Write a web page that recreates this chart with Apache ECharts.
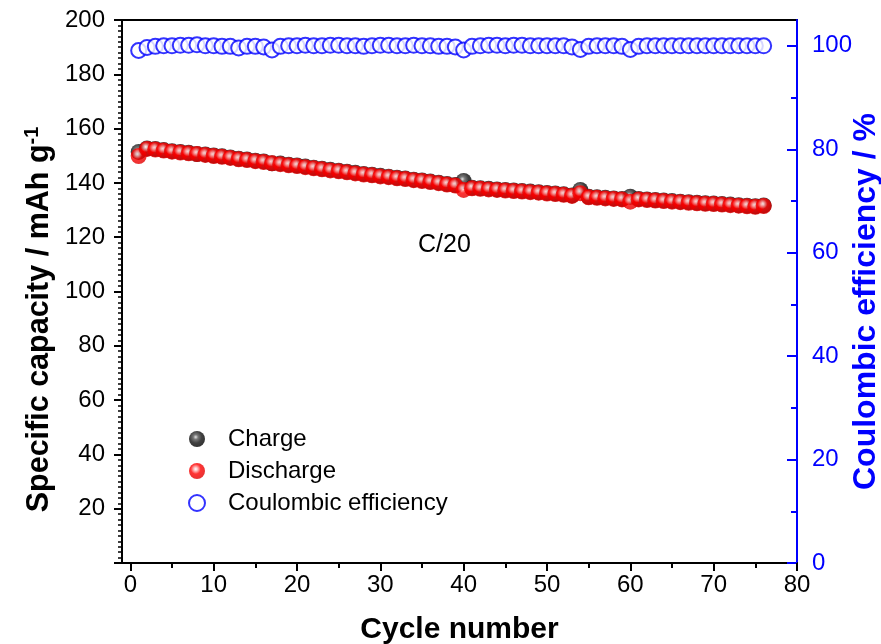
<!DOCTYPE html>
<html>
<head>
<meta charset="utf-8">
<script src="https://cdn.jsdelivr.net/npm/echarts@6/dist/echarts.min.js"></script>
<style>
html,body{margin:0;padding:0;background:#fff;}
#c{width:881px;height:644px;}
</style>
</head>
<body>
<div id="c"></div>
<script>
// ---- data ----
const cycles = [];
for (let i = 1; i <= 76; i++) cycles.push(i);

const discharge = [
  149.9, 152.5, 152.3, 151.9, 151.5, 151.2, 150.9, 150.6, 150.3, 149.9,
  149.6, 149.2, 148.7, 148.4, 148.0, 147.7, 147.2, 146.9, 146.5, 146.2,
  145.8, 145.4, 145.0, 144.6, 144.3, 143.9, 143.5, 143.1, 142.8, 142.4,
  142.1, 141.7, 141.4, 141.0, 140.7, 140.3, 139.9, 139.4, 139.0, 137.4,
  138.0, 137.8, 137.6, 137.4, 137.2, 137.0, 136.8, 136.6, 136.4, 136.1,
  135.9, 135.6, 135.2, 136.2, 134.7, 134.5, 134.3, 134.1, 133.9, 133.1,
  133.9, 133.7, 133.5, 133.3, 133.1, 132.9, 132.7, 132.5, 132.3, 132.2,
  132.0, 131.8, 131.6, 131.4, 131.2, 131.5
];

const charge = [
  151.4, 152.7, 152.5, 152.1, 151.7, 151.4, 151.1, 150.6, 150.5, 150.1,
  149.8, 149.4, 148.9, 148.6, 148.2, 147.9, 147.2, 147.1, 146.7, 146.4,
  146.0, 145.6, 145.2, 144.8, 144.5, 144.1, 143.7, 143.3, 143.0, 142.6,
  142.3, 141.9, 141.6, 141.2, 140.9, 140.5, 140.1, 139.6, 139.2, 140.7,
  138.2, 138.0, 137.8, 137.6, 137.4, 137.2, 137.0, 136.8, 136.6, 136.3,
  136.1, 135.8, 135.4, 137.4, 134.9, 134.7, 134.5, 134.3, 134.1, 134.9,
  134.1, 133.9, 133.7, 133.5, 133.3, 133.1, 132.9, 132.7, 132.5, 132.4,
  132.2, 132.0, 131.8, 131.6, 131.4, 131.7
];

const efficiency = [
  99.1, 99.7, 99.9, 100.0, 100.0, 100.1, 100.1, 100.2, 100.0, 100.0,
  99.9, 99.9, 99.6, 99.9, 99.9, 99.8, 99.2, 99.9, 100.0, 100.0,
  100.1, 100.0, 100.0, 100.1, 100.1, 100.0, 100.0, 99.9, 100.0, 100.1,
  100.1, 100.0, 100.0, 100.1, 100.0, 100.0, 99.9, 99.9, 99.8, 99.2,
  99.9, 100.0, 100.1, 100.1, 100.0, 100.1, 100.1, 100.0, 100.0, 100.0,
  100.0, 100.0, 99.8, 99.3, 99.9, 100.0, 100.0, 100.0, 99.9, 99.3,
  99.9, 100.0, 100.0, 100.0, 100.0, 100.0, 100.0, 100.0, 100.0, 100.0,
  100.0, 100.0, 100.0, 100.0, 100.0, 100.0
];

const xMajorTicks = [0, 10, 20, 30, 40, 50, 60, 70, 80];
const xMinorTicks = [5, 15, 25, 35, 45, 55, 65, 75];
const ceMajorTicks = [0, 20, 40, 60, 80, 100];
const ceMinorTicks = [10, 30, 50, 70, 90];
const rateLabel = 'C/20';

// ---- chart ----
const FONT = '"Liberation Sans", Arial, Helvetica, sans-serif';
const pair = (xs, ys) => xs.map((x, i) => [x, ys[i]]);

const redBall = {
  type: 'radial', x: 0.42, y: 0.38, r: 0.62,
  colorStops: [
    { offset: 0, color: '#ffffff' },
    { offset: 0.18, color: '#ffb3b3' },
    { offset: 0.5, color: '#ff0000' },
    { offset: 1, color: '#e00000' }
  ]
};
const blackBall = {
  type: 'radial', x: 0.42, y: 0.38, r: 0.62,
  colorStops: [
    { offset: 0, color: '#dddddd' },
    { offset: 0.25, color: '#555555' },
    { offset: 0.6, color: '#111111' },
    { offset: 1, color: '#000000' }
  ]
};

const chart = echarts.init(document.getElementById('c'), null, { renderer: 'canvas' });

chart.setOption({
  animation: false,
  backgroundColor: '#fff',
  textStyle: { fontFamily: FONT },
  grid: {
    left: 122, right: 84, top: 20, bottom: 81,
    outerBoundsMode: 'none', containLabel: false,
    show: true, borderColor: '#000', borderWidth: 2, backgroundColor: 'transparent'
  },
  legend: {
    orient: 'vertical',
    left: 183, top: 422,
    itemWidth: 16, itemHeight: 16, itemGap: 8,
    textStyle: { fontSize: 24, color: '#000', fontFamily: FONT, padding: [0, 0, 0, 18] },
    data: ['Charge', 'Discharge', 'Coulombic efficiency']
  },
  graphic: [{
    type: 'text', left: 418, top: 233,
    style: { text: rateLabel, font: '25px ' + FONT, fill: '#000' }
  }],
  xAxis: [{
    type: 'value', min: -1, max: 80, position: 'bottom',
    name: 'Cycle number', nameLocation: 'middle', nameGap: 52, nameMoveOverlap: false,
    nameTextStyle: { fontSize: 30, fontWeight: 'bold', color: '#000', fontFamily: FONT },
    axisLine: { onZero: false, lineStyle: { color: '#000', width: 2 } },
    axisTick: { customValues: xMajorTicks, length: 8, lineStyle: { color: '#000', width: 2 } },
    axisLabel: { customValues: xMajorTicks, fontSize: 24, color: '#000', margin: 10, fontFamily: FONT },
    splitLine: { show: false }
  }, {
    type: 'value', min: -1, max: 80, position: 'bottom',
    axisLine: { show: false, onZero: false },
    axisTick: { customValues: xMinorTicks, length: 5, lineStyle: { color: '#000', width: 2 } },
    axisLabel: { show: false },
    splitLine: { show: false }
  }],
  yAxis: [{
    type: 'value', min: 0, max: 200, interval: 20, position: 'left',
    name: 'Specific capacity / mAh g{sup|-1}', nameLocation: 'middle', nameGap: 64, nameMoveOverlap: false,
    nameTextStyle: {
      fontSize: 30.5, fontWeight: 'bold', color: '#000', fontFamily: FONT,
      padding: [0, 56, 0, 0],
      rich: { sup: { fontSize: 20, fontWeight: 'bold', color: '#000', fontFamily: FONT, padding: [0, 0, 16, 0] } }
    },
    axisLine: { onZero: false, lineStyle: { color: '#000', width: 2 } },
    axisTick: { length: 8, lineStyle: { color: '#000', width: 2 } },
    minorTick: { show: true, splitNumber: 10, length: 4, lineStyle: { color: '#000', width: 1.5 } },
    axisLabel: { fontSize: 24, color: '#000', margin: 17, showMinLabel: false, fontFamily: FONT },
    splitLine: { show: false }, minorSplitLine: { show: false }
  }, {
    type: 'value', min: 0, max: 105, position: 'right',
    name: 'Coulombic efficiency / %', nameLocation: 'middle', nameGap: 53, nameMoveOverlap: false,
    nameTextStyle: { fontSize: 32, fontWeight: 'bold', color: '#0000ff', fontFamily: FONT, padding: [0, 20, 0, 0] },
    axisLine: { onZero: false, lineStyle: { color: '#0000ff', width: 2 } },
    axisTick: { inside: true, customValues: ceMajorTicks, length: 10, lineStyle: { color: '#0000ff', width: 2 } },
    axisLabel: { customValues: ceMajorTicks, fontSize: 24, color: '#0000ff', margin: 15, fontFamily: FONT },
    splitLine: { show: false }
  }, {
    type: 'value', min: 0, max: 105, position: 'right',
    axisLine: { show: false, onZero: false },
    axisTick: { inside: true, customValues: ceMinorTicks, length: 6, lineStyle: { color: '#0000ff', width: 2 } },
    axisLabel: { show: false },
    splitLine: { show: false }
  }],
  series: [{
    name: 'Charge', type: 'scatter', xAxisIndex: 0, yAxisIndex: 0,
    symbol: 'circle', symbolSize: 16,
    itemStyle: { color: blackBall },
    data: pair(cycles, charge)
  }, {
    name: 'Discharge', type: 'scatter', xAxisIndex: 0, yAxisIndex: 0,
    symbol: 'circle', symbolSize: 16,
    itemStyle: { color: redBall },
    data: pair(cycles, discharge)
  }, {
    name: 'Coulombic efficiency', type: 'scatter', xAxisIndex: 0, yAxisIndex: 1,
    symbol: 'circle', symbolSize: 15,
    itemStyle: { color: '#ffffff', borderColor: '#0000ff', borderWidth: 2 },
    data: pair(cycles, efficiency)
  }]
});
</script>
</body>
</html>
